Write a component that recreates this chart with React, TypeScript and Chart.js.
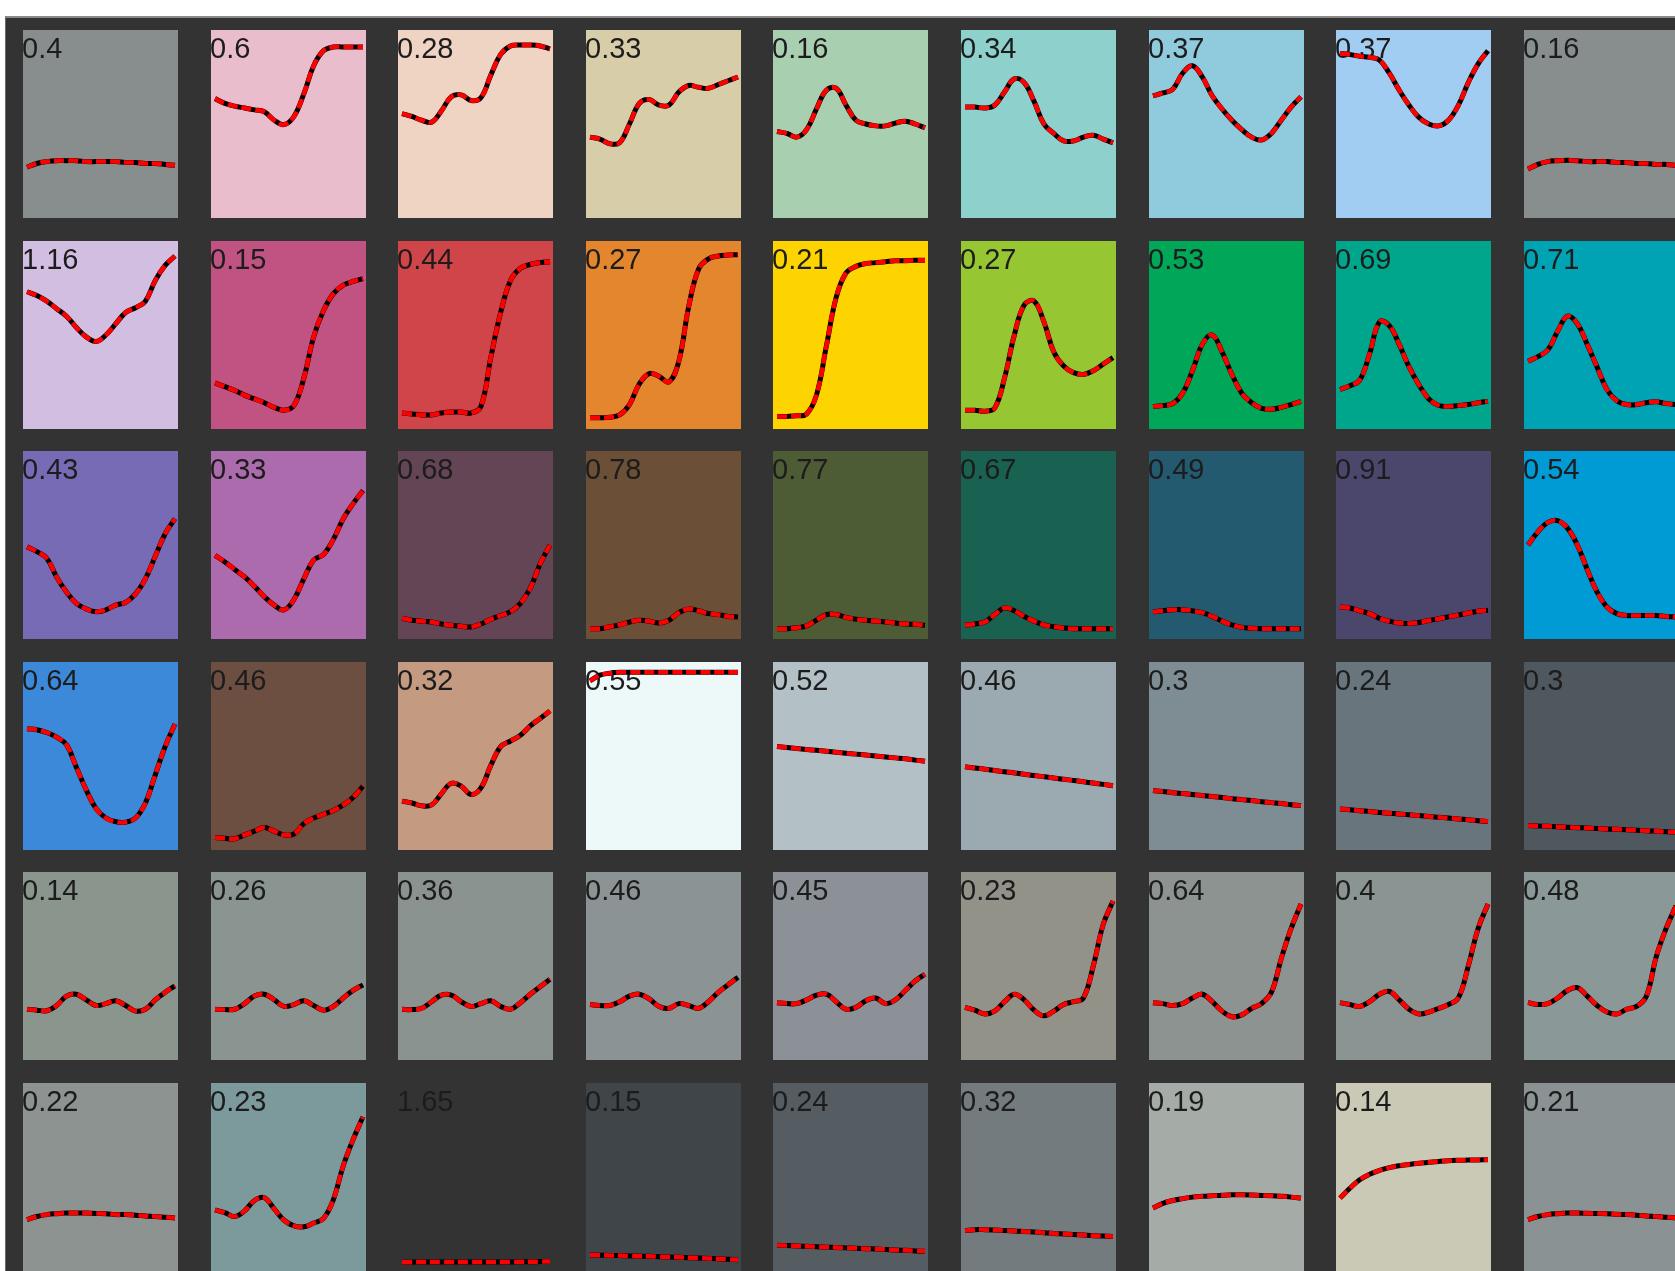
import React, { useEffect, useRef } from "react";
import { Chart, registerables } from "chart.js";

Chart.register(...registerables);

// Wavelength samples (nm) shared by every panel
const WAVELENGTHS = [400, 420, 440, 460, 480, 500, 520, 540, 560, 580, 600, 620, 640, 660, 680, 700];

// ---------- Row 1 ----------
const ROW1_LABELS = ["0.4", "0.6", "0.28", "0.33", "0.16", "0.34", "0.37", "0.37", "0.16"];
const ROW1_COLORS = ["#878e8d", "#e9bdcc", "#efd3c3", "#d7cda9", "#a9cfb1", "#8ed0cb", "#90cbdd", "#a2cdf3", "#878e8d"];
const ROW1_CURVES = [
  [0.27, 0.29, 0.3, 0.305, 0.305, 0.305, 0.3, 0.3, 0.3, 0.3, 0.295, 0.295, 0.29, 0.29, 0.285, 0.28],
  [0.635, 0.61, 0.595, 0.585, 0.575, 0.565, 0.52, 0.497, 0.54, 0.66, 0.81, 0.89, 0.91, 0.91, 0.91, 0.91],
  [0.555, 0.54, 0.52, 0.51, 0.57, 0.645, 0.655, 0.625, 0.64, 0.76, 0.87, 0.915, 0.92, 0.92, 0.915, 0.9],
  [0.43, 0.42, 0.395, 0.4, 0.5, 0.61, 0.63, 0.6, 0.6, 0.67, 0.705, 0.695, 0.69, 0.71, 0.73, 0.75],
  [0.46, 0.45, 0.43, 0.47, 0.58, 0.68, 0.69, 0.6, 0.52, 0.5, 0.49, 0.49, 0.505, 0.515, 0.5, 0.48],
  [0.59, 0.59, 0.585, 0.6, 0.67, 0.74, 0.72, 0.62, 0.5, 0.45, 0.41, 0.41, 0.43, 0.44, 0.42, 0.4],
  [0.65, 0.665, 0.685, 0.77, 0.81, 0.75, 0.65, 0.58, 0.52, 0.47, 0.43, 0.415, 0.45, 0.52, 0.59, 0.645],
  [0.875, 0.87, 0.86, 0.855, 0.84, 0.77, 0.68, 0.6, 0.535, 0.5, 0.49, 0.52, 0.6, 0.72, 0.82, 0.89],
  [0.26, 0.285, 0.3, 0.305, 0.307, 0.305, 0.3, 0.3, 0.3, 0.295, 0.295, 0.29, 0.29, 0.285, 0.285, 0.28],
];

// ---------- Row 2 ----------
const ROW2_LABELS = ["1.16", "0.15", "0.44", "0.27", "0.21", "0.27", "0.53", "0.69", "0.71"];
const ROW2_COLORS = ["#d1bee1", "#c05381", "#cf4549", "#e4862d", "#fed400", "#96c732", "#00a759", "#00a68b", "#00a3b4"];
const ROW2_CURVES = [
  [0.73, 0.71, 0.68, 0.64, 0.6, 0.54, 0.49, 0.465, 0.5, 0.56, 0.62, 0.645, 0.68, 0.79, 0.87, 0.92],
  [0.245, 0.225, 0.205, 0.18, 0.16, 0.14, 0.115, 0.1, 0.125, 0.27, 0.49, 0.63, 0.72, 0.765, 0.785, 0.8],
  [0.085, 0.08, 0.075, 0.075, 0.085, 0.09, 0.09, 0.085, 0.12, 0.38, 0.62, 0.79, 0.855, 0.875, 0.885, 0.89],
  [0.06, 0.06, 0.062, 0.075, 0.13, 0.24, 0.295, 0.28, 0.25, 0.36, 0.65, 0.85, 0.905, 0.92, 0.925, 0.927],
  [0.067, 0.067, 0.07, 0.08, 0.18, 0.44, 0.7, 0.83, 0.865, 0.88, 0.885, 0.89, 0.895, 0.895, 0.897, 0.897],
  [0.1, 0.1, 0.095, 0.11, 0.27, 0.5, 0.66, 0.68, 0.57, 0.41, 0.335, 0.3, 0.29, 0.31, 0.345, 0.38],
  [0.12, 0.125, 0.135, 0.19, 0.31, 0.45, 0.5, 0.41, 0.29, 0.19, 0.14, 0.11, 0.105, 0.115, 0.13, 0.147],
  [0.21, 0.23, 0.26, 0.4, 0.57, 0.55, 0.45, 0.33, 0.235, 0.16, 0.125, 0.12, 0.125, 0.13, 0.14, 0.147],
  [0.36, 0.385, 0.42, 0.52, 0.6, 0.56, 0.45, 0.33, 0.21, 0.15, 0.13, 0.13, 0.14, 0.145, 0.135, 0.13],
];

// ---------- Row 3 ----------
const ROW3_LABELS = ["0.43", "0.33", "0.68", "0.78", "0.77", "0.67", "0.49", "0.91", "0.54"];
const ROW3_COLORS = ["#786bb5", "#ac6bac", "#634555", "#6b4f36", "#4e5c36", "#196150", "#245a6f", "#4b476c", "#009ad4"];
const ROW3_CURVES = [
  [0.49, 0.465, 0.43, 0.33, 0.25, 0.19, 0.16, 0.145, 0.155, 0.18, 0.195, 0.24, 0.32, 0.44, 0.56, 0.64],
  [0.445, 0.41, 0.37, 0.33, 0.28, 0.225, 0.18, 0.155, 0.21, 0.32, 0.42, 0.45, 0.53, 0.64, 0.72, 0.79],
  [0.11, 0.1, 0.095, 0.09, 0.08, 0.073, 0.068, 0.064, 0.08, 0.105, 0.125, 0.145, 0.19, 0.27, 0.4, 0.5],
  [0.055, 0.055, 0.065, 0.075, 0.09, 0.1, 0.095, 0.085, 0.1, 0.14, 0.16, 0.15, 0.135, 0.13, 0.12, 0.117],
  [0.055, 0.055, 0.06, 0.07, 0.1, 0.13, 0.13, 0.115, 0.105, 0.1, 0.095, 0.09, 0.085, 0.08, 0.078, 0.073],
  [0.073, 0.08, 0.09, 0.13, 0.165, 0.15, 0.12, 0.095, 0.075, 0.065, 0.058, 0.055, 0.055, 0.055, 0.055, 0.055],
  [0.145, 0.15, 0.156, 0.156, 0.15, 0.14, 0.12, 0.095, 0.075, 0.062, 0.057, 0.055, 0.055, 0.055, 0.055, 0.055],
  [0.17, 0.165, 0.15, 0.135, 0.11, 0.095, 0.085, 0.082, 0.088, 0.098, 0.108, 0.118, 0.128, 0.138, 0.148, 0.153],
  [0.5, 0.57, 0.62, 0.63, 0.59, 0.5, 0.37, 0.25, 0.17, 0.135, 0.125, 0.125, 0.125, 0.125, 0.12, 0.117],
];

// ---------- Row 4 ----------
const ROW4_LABELS = ["0.64", "0.46", "0.32", "0.55", "0.52", "0.46", "0.3", "0.24", "0.3"];
const ROW4_COLORS = ["#3d89d9", "#6c4f41", "#c49b80", "#edf8f8", "#b3c1c7", "#9ba9b0", "#7e8c94", "#69757d", "#4f585f"];
const ROW4_CURVES = [
  [0.645, 0.64, 0.625, 0.6, 0.56, 0.44, 0.32, 0.22, 0.17, 0.15, 0.148, 0.17, 0.25, 0.4, 0.55, 0.67],
  [0.067, 0.062, 0.06, 0.08, 0.1, 0.12, 0.1, 0.08, 0.085, 0.14, 0.17, 0.19, 0.21, 0.24, 0.28, 0.34],
  [0.26, 0.25, 0.235, 0.24, 0.3, 0.355, 0.34, 0.295, 0.33, 0.45, 0.55, 0.58, 0.61, 0.66, 0.7, 0.74],
  [0.9, 0.93, 0.94, 0.945, 0.945, 0.945, 0.945, 0.945, 0.945, 0.945, 0.945, 0.945, 0.945, 0.945, 0.945, 0.945],
  [0.55, 0.545, 0.54, 0.535, 0.53, 0.525, 0.52, 0.515, 0.51, 0.505, 0.5, 0.495, 0.49, 0.485, 0.478, 0.472],
  [0.443, 0.436, 0.43, 0.423, 0.416, 0.41, 0.403, 0.396, 0.39, 0.383, 0.376, 0.37, 0.363, 0.356, 0.349, 0.342],
  [0.316, 0.311, 0.305, 0.3, 0.295, 0.29, 0.284, 0.279, 0.273, 0.268, 0.263, 0.257, 0.252, 0.247, 0.241, 0.236],
  [0.218, 0.214, 0.209, 0.205, 0.2, 0.196, 0.192, 0.187, 0.183, 0.178, 0.174, 0.17, 0.165, 0.161, 0.156, 0.152],
  [0.13, 0.128, 0.126, 0.124, 0.121, 0.119, 0.117, 0.115, 0.112, 0.11, 0.108, 0.105, 0.103, 0.1, 0.097, 0.094],
];

// ---------- Row 5 ----------
const ROW5_LABELS = ["0.14", "0.26", "0.36", "0.46", "0.45", "0.23", "0.64", "0.4", "0.48"];
const ROW5_COLORS = ["#8a958d", "#8a9592", "#8a9390", "#8b9394", "#8c9197", "#939289", "#8d9391", "#8a9492", "#8b9898"];
const ROW5_CURVES = [
  [0.27, 0.265, 0.262, 0.29, 0.34, 0.35, 0.32, 0.29, 0.3, 0.315, 0.29, 0.26, 0.27, 0.32, 0.36, 0.394],
  [0.27, 0.268, 0.27, 0.3, 0.34, 0.35, 0.32, 0.285, 0.295, 0.315, 0.29, 0.265, 0.285, 0.33, 0.37, 0.4],
  [0.27, 0.268, 0.275, 0.31, 0.345, 0.345, 0.31, 0.285, 0.3, 0.315, 0.285, 0.27, 0.305, 0.35, 0.39, 0.43],
  [0.295, 0.29, 0.29, 0.31, 0.34, 0.35, 0.325, 0.285, 0.275, 0.3, 0.29, 0.275, 0.31, 0.36, 0.4, 0.44],
  [0.305, 0.3, 0.3, 0.32, 0.345, 0.35, 0.31, 0.27, 0.28, 0.315, 0.33, 0.3, 0.32, 0.37, 0.42, 0.456],
  [0.28, 0.265, 0.245, 0.26, 0.31, 0.35, 0.32, 0.265, 0.235, 0.26, 0.295, 0.31, 0.33, 0.5, 0.72, 0.846],
  [0.305, 0.3, 0.29, 0.3, 0.33, 0.35, 0.31, 0.26, 0.23, 0.24, 0.275, 0.3, 0.36, 0.54, 0.7, 0.83],
  [0.305, 0.295, 0.285, 0.31, 0.35, 0.365, 0.32, 0.27, 0.245, 0.255, 0.275, 0.295, 0.33, 0.5, 0.7, 0.83],
  [0.305, 0.295, 0.3, 0.33, 0.37, 0.385, 0.34, 0.29, 0.255, 0.245, 0.27, 0.285, 0.34, 0.55, 0.7, 0.82],
];

// ---------- Row 6 ----------
const ROW6_LABELS = ["0.22", "0.23", "1.65", "0.15", "0.24", "0.32", "0.19", "0.14", "0.21"];
const ROW6_COLORS = ["#8d9390", "#7c9a9c", "#333334", "#3f4548", "#555d63", "#737b7f", "#a5aca8", "#c9c9b5", "#8b9294"];
const ROW6_CURVES = [
  [0.273, 0.29, 0.3, 0.305, 0.308, 0.308, 0.308, 0.306, 0.305, 0.3, 0.3, 0.297, 0.293, 0.29, 0.286, 0.282],
  [0.325, 0.31, 0.29, 0.32, 0.375, 0.39, 0.33, 0.27, 0.24, 0.235, 0.255, 0.28, 0.38, 0.56, 0.7, 0.82],
  [0.046, 0.047, 0.048, 0.048, 0.048, 0.048, 0.048, 0.048, 0.048, 0.048, 0.048, 0.048, 0.049, 0.049, 0.05, 0.05],
  [0.085, 0.084, 0.083, 0.082, 0.08, 0.079, 0.078, 0.076, 0.075, 0.073, 0.071, 0.069, 0.067, 0.065, 0.062, 0.06],
  [0.137, 0.135, 0.133, 0.131, 0.129, 0.127, 0.125, 0.123, 0.121, 0.119, 0.117, 0.115, 0.112, 0.11, 0.107, 0.105],
  [0.215, 0.22, 0.22, 0.218, 0.215, 0.213, 0.21, 0.207, 0.204, 0.2, 0.197, 0.194, 0.191, 0.188, 0.186, 0.184],
  [0.335, 0.36, 0.375, 0.385, 0.393, 0.397, 0.4, 0.403, 0.405, 0.405, 0.404, 0.402, 0.4, 0.397, 0.393, 0.388],
  [0.388, 0.44, 0.485, 0.515, 0.535, 0.55, 0.56, 0.567, 0.573, 0.578, 0.583, 0.587, 0.589, 0.59, 0.591, 0.592],
  [0.273, 0.29, 0.3, 0.305, 0.308, 0.308, 0.307, 0.306, 0.305, 0.302, 0.3, 0.297, 0.293, 0.29, 0.286, 0.282],
];

const ROWS = [
  { labels: ROW1_LABELS, colors: ROW1_COLORS, curves: ROW1_CURVES },
  { labels: ROW2_LABELS, colors: ROW2_COLORS, curves: ROW2_CURVES },
  { labels: ROW3_LABELS, colors: ROW3_COLORS, curves: ROW3_CURVES },
  { labels: ROW4_LABELS, colors: ROW4_COLORS, curves: ROW4_CURVES },
  { labels: ROW5_LABELS, colors: ROW5_COLORS, curves: ROW5_CURVES },
  { labels: ROW6_LABELS, colors: ROW6_COLORS, curves: ROW6_CURVES },
];

const PANEL_W = 155;
const PANEL_H = 188;
const COL_STEP = 187.6;
const ROW_STEP = 210.6;
const ORIGIN_X = 23;
const ORIGIN_Y = 30;

const bgPlugin = {
  id: "panelBg",
  beforeDraw(chart: any, _args: any, opts: any) {
    const ctx = chart.ctx;
    ctx.save();
    ctx.fillStyle = opts.color;
    ctx.fillRect(0, 0, chart.width, chart.height);
    ctx.restore();
  },
};

const labelPlugin = {
  id: "panelLabel",
  beforeDatasetsDraw(chart: any, _args: any, opts: any) {
    const ctx = chart.ctx;
    ctx.save();
    ctx.font = '29px "Liberation Sans", Arial, sans-serif';
    ctx.fillStyle = "#1c1c1c";
    ctx.textBaseline = "alphabetic";
    ctx.textAlign = "left";
    ctx.fillText(opts.text, -1, 28);
    ctx.restore();
  },
};

function Panel(props: { label: string; color: string; values: number[]; left: number; top: number }) {
  const ref = useRef<HTMLCanvasElement | null>(null);
  useEffect(() => {
    if (!ref.current) return;
    const chart = new Chart(ref.current, {
      type: "line",
      data: {
        labels: WAVELENGTHS,
        datasets: [
          {
            label: "fit",
            data: props.values,
            borderColor: "#ff0000",
            borderWidth: 4.5,
            borderDash: [10, 4],
            pointRadius: 0,
            tension: 0.4,
            fill: false,
            clip: false,
          } as any,
          {
            label: "measured",
            data: props.values,
            borderColor: "#000000",
            borderWidth: 5,
            pointRadius: 0,
            tension: 0.4,
            fill: false,
            clip: false,
          } as any,
        ],
      },
      options: {
        animation: false,
        responsive: false,
        maintainAspectRatio: false,
        events: [],
        layout: { padding: { left: 4, right: 3, top: 0, bottom: 0 } },
        scales: {
          x: { display: false, offset: false },
          y: { display: false, min: 0, max: 1 },
        },
        plugins: {
          legend: { display: false },
          tooltip: { enabled: false },
          panelBg: { color: props.color },
          panelLabel: { text: props.label },
        } as any,
      },
      plugins: [bgPlugin, labelPlugin],
    });
    return () => chart.destroy();
  }, [props.label, props.color, props.values]);
  return (
    <canvas
      ref={ref}
      width={PANEL_W}
      height={PANEL_H}
      style={{ position: "absolute", left: props.left, top: props.top, width: PANEL_W, height: PANEL_H }}
    />
  );
}

export default function App() {
  const panels: any[] = [];
  ROWS.forEach((row, r) => {
    row.curves.forEach((vals, c) => {
      panels.push(
        <Panel
          key={`${r}-${c}`}
          label={row.labels[c]}
          color={row.colors[c]}
          values={vals}
          left={Math.round(ORIGIN_X + COL_STEP * c)}
          top={Math.round(ORIGIN_Y + ROW_STEP * r)}
        />
      );
    });
  });
  return (
    <div
      style={{
        position: "absolute",
        left: 0,
        top: 0,
        width: 1675,
        height: 1271,
        overflow: "hidden",
        background: "#ffffff",
      }}
    >
      <div
        style={{
          position: "absolute",
          left: 5,
          top: 16,
          right: 0,
          bottom: 0,
          background: "#333333",
          borderTop: "2px solid #8a8a8a",
          borderLeft: "1px solid #6a6a6a",
        }}
      />
      {panels}
    </div>
  );
}
